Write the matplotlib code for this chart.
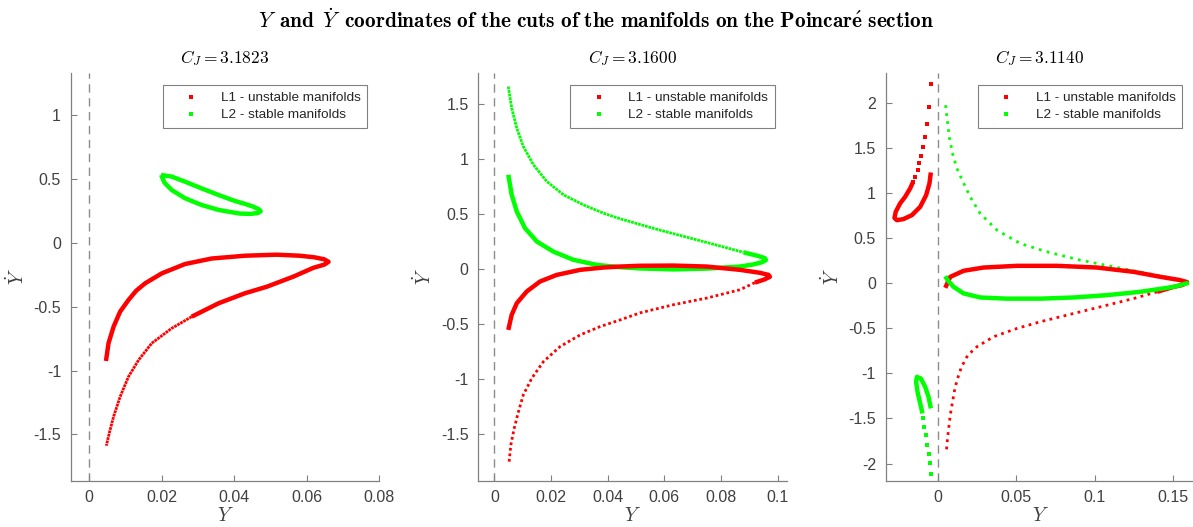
import numpy as np
import matplotlib.pyplot as plt
from matplotlib.lines import Line2D

plt.rcParams['mathtext.fontset'] = 'cm'
plt.rcParams['font.family'] = ['Liberation Sans', 'DejaVu Sans']

RED = '#ff0000'
GREEN = '#00ff00'

cj_values = ['3.1823', '3.1600', '3.1140']
legend_labels = ['L1 - unstable manifolds', 'L2 - stable manifolds']

# ---- panel 1 : C_J = 3.1823 ----
p1_green_loop = [(0.0199, 0.533), (0.0228, 0.520), (0.0265, 0.480), (0.0310, 0.428),
                 (0.0357, 0.376), (0.0402, 0.329), (0.0430, 0.306), (0.0452, 0.285),
                 (0.0468, 0.264), (0.0473, 0.248), (0.0465, 0.234), (0.0445, 0.228),
                 (0.0417, 0.230), (0.0393, 0.241), (0.0357, 0.259), (0.0310, 0.298),
                 (0.0265, 0.350), (0.0228, 0.415), (0.0208, 0.473), (0.0199, 0.533)]
p1_red_dense = [(0.0047, -0.925), (0.0054, -0.786), (0.0068, -0.656), (0.0086, -0.538),
                (0.0109, -0.447), (0.0130, -0.375), (0.0155, -0.316), (0.0201, -0.238),
                (0.0265, -0.165), (0.0338, -0.122), (0.0430, -0.100), (0.0517, -0.092),
                (0.0580, -0.100), (0.0620, -0.112), (0.0648, -0.128), (0.0660, -0.148),
                (0.0648, -0.170), (0.0618, -0.195), (0.0563, -0.264), (0.0490, -0.343),
                (0.0430, -0.394), (0.0357, -0.473), (0.0283, -0.578)]
p1_red_sparse = [(0.0283, -0.578), (0.0228, -0.669), (0.0173, -0.786), (0.0137, -0.917),
                 (0.0109, -1.048), (0.0086, -1.205), (0.0068, -1.361), (0.0056, -1.491),
                 (0.0048, -1.589)]

# ---- panel 2 : C_J = 3.1600 ----
p2_green_sparse = [(0.0049, 1.657), (0.0061, 1.461), (0.0079, 1.279), (0.0102, 1.112),
                   (0.0138, 0.945), (0.0185, 0.794), (0.0244, 0.673), (0.0314, 0.582),
                   (0.0385, 0.506), (0.0444, 0.455), (0.0573, 0.360), (0.0691, 0.280),
                   (0.0808, 0.200), (0.0880, 0.150)]
p2_green_dense = [(0.0880, 0.150), (0.0930, 0.118), (0.0955, 0.098), (0.0959, 0.080),
                  (0.0945, 0.060), (0.0910, 0.038), (0.0867, 0.021), (0.0749, 0.002),
                  (0.0632, -0.005), (0.0514, 0.004), (0.0444, 0.015), (0.0362, 0.036),
                  (0.0279, 0.082), (0.0208, 0.157), (0.0150, 0.248), (0.0108, 0.370),
                  (0.0079, 0.521), (0.0061, 0.673), (0.0049, 0.855)]
p2_red_dense = [(0.0049, -0.555), (0.0061, -0.418), (0.0079, -0.312), (0.0114, -0.206),
                (0.0161, -0.115), (0.0220, -0.055), (0.0303, -0.009), (0.0385, 0.012),
                (0.0444, 0.021), (0.0514, 0.028), (0.0632, 0.030), (0.0749, 0.021),
                (0.0867, -0.009), (0.0938, -0.036), (0.0968, -0.055), (0.0973, -0.072),
                (0.0955, -0.095), (0.0920, -0.125)]
p2_red_sparse = [(0.0920, -0.125), (0.0867, -0.190), (0.0749, -0.266), (0.0632, -0.326),
                 (0.0514, -0.400), (0.0444, -0.464), (0.0374, -0.524), (0.0303, -0.600),
                 (0.0232, -0.706), (0.0173, -0.843), (0.0132, -0.994), (0.0102, -1.145),
                 (0.0085, -1.297), (0.0070, -1.448), (0.0058, -1.600), (0.0052, -1.752)]

# ---- panel 3 : C_J = 3.1140 ----
p3_red_left_dots = [(-0.0045, 2.203), (-0.0056, 1.955), (-0.0068, 1.766), (-0.0081, 1.622),
                    (-0.0096, 1.508), (-0.0107, 1.408), (-0.0118, 1.327), (-0.0130, 1.253),
                    (-0.0145, 1.178), (-0.0160, 1.116)]
p3_red_left_dense = [(-0.0160, 1.116), (-0.0177, 1.050), (-0.0209, 0.957), (-0.0241, 0.884),
                     (-0.0269, 0.791), (-0.0277, 0.724), (-0.0262, 0.698), (-0.0220, 0.710),
                     (-0.0166, 0.754), (-0.0113, 0.846), (-0.0075, 0.976), (-0.0054, 1.105),
                     (-0.0045, 1.227)]
p3_red_dense = [(0.0047, -0.052), (0.0079, 0.070), (0.0164, 0.137), (0.0291, 0.173),
                (0.0504, 0.192), (0.0760, 0.192), (0.1015, 0.173), (0.1249, 0.125),
                (0.1419, 0.070), (0.1540, 0.035), (0.1589, 0.012), (0.1560, -0.020),
                (0.1504, -0.041), (0.1398, -0.096)]
p3_red_sparse = [(0.1398, -0.096), (0.1249, -0.170), (0.1079, -0.244), (0.0866, -0.336),
                 (0.0653, -0.428), (0.0504, -0.502), (0.0355, -0.594), (0.0249, -0.705),
                 (0.0190, -0.800), (0.0150, -0.930), (0.0125, -1.060), (0.0108, -1.170),
                 (0.0095, -1.300), (0.0080, -1.450), (0.0068, -1.620), (0.0058, -1.780),
                 (0.0053, -1.888)]
p3_green_sparse = [(0.0049, 1.973), (0.0058, 1.833), (0.0074, 1.604), (0.0096, 1.419),
                   (0.0121, 1.272), (0.0153, 1.150), (0.0206, 0.956), (0.0270, 0.771),
                   (0.0377, 0.587), (0.0526, 0.439), (0.0696, 0.347), (0.0909, 0.255),
                   (0.1121, 0.181), (0.1334, 0.107), (0.1504, 0.052), (0.1600, 0.004)]
p3_green_dense = [(0.1600, 0.004), (0.1504, -0.041), (0.1291, -0.096), (0.1079, -0.133),
                  (0.0866, -0.159), (0.0653, -0.172), (0.0440, -0.172), (0.0270, -0.159),
                  (0.0164, -0.114), (0.0100, -0.041), (0.0062, 0.033), (0.0047, 0.077)]
p3_green_left_dense = [(-0.0045, -1.389), (-0.0060, -1.260), (-0.0081, -1.150),
                       (-0.0109, -1.057), (-0.0134, -1.039), (-0.0139, -1.094),
                       (-0.0130, -1.205), (-0.0113, -1.334), (-0.0098, -1.445)]
p3_green_left_dots = [(-0.0092, -1.500), (-0.0086, -1.593), (-0.0077, -1.685),
                      (-0.0068, -1.796), (-0.0058, -1.896), (-0.0051, -1.999),
                      (-0.0045, -2.118)]

# sparse sections: (points, colour, gap between dots in line widths)
panels = [
    {'dense': [(p1_green_loop, GREEN), (p1_red_dense, RED)],
     'sparse': [(p1_red_sparse, RED, 0.25)],
     'dots': [],
     'xlim': (-0.005, 0.08), 'ylim': (-1.863, 1.332),
     'xticks': [0, 0.02, 0.04, 0.06, 0.08], 'yticks': [-1.5, -1, -0.5, 0, 0.5, 1]},
    {'dense': [(p2_green_dense, GREEN), (p2_red_dense, RED)],
     'sparse': [(p2_green_sparse, GREEN, 0.3), (p2_red_sparse, RED, 1.0)],
     'dots': [],
     'xlim': (-0.0057, 0.1033), 'ylim': (-1.925, 1.78),
     'xticks': [0, 0.02, 0.04, 0.06, 0.08, 0.1], 'yticks': [-1.5, -1, -0.5, 0, 0.5, 1, 1.5]},
    {'dense': [(p3_red_left_dense, RED), (p3_red_dense, RED),
               (p3_green_dense, GREEN), (p3_green_left_dense, GREEN)],
     'sparse': [(p3_red_sparse, RED, 1.6), (p3_green_sparse, GREEN, 1.9)],
     'dots': [(p3_red_left_dots, RED), (p3_green_left_dots, GREEN)],
     'xlim': (-0.0333, 0.1635), 'ylim': (-2.19, 2.33),
     'xticks': [0, 0.05, 0.1, 0.15], 'yticks': [-2, -1.5, -1, -0.5, 0, 0.5, 1, 1.5, 2]},
]

fig = plt.figure(figsize=(11.93, 5.27), dpi=100)
lefts = [0.0593, 0.4009, 0.7424]

for i, p in enumerate(panels):
    ax = fig.add_axes([lefts[i], 0.0879, 0.2587, 0.7736])
    ax.axvline(0, color='#8c8c8c', lw=1.0, ls=(0, (6, 4)), zorder=1)
    for pts, c, gap in p['sparse']:
        xy = np.array(pts)
        ax.plot(xy[:, 0], xy[:, 1], color=c, lw=2.0, ls=(0, (1, gap)), zorder=2)
    for pts, c in p['dots']:
        xy = np.array(pts)
        ax.plot(xy[:, 0], xy[:, 1], ls='none', marker='s', ms=2.8, mew=0, color=c, zorder=2)
    for pts, c in p['dense']:
        xy = np.array(pts)
        ax.plot(xy[:, 0], xy[:, 1], color=c, lw=3.2, solid_capstyle='butt',
                solid_joinstyle='round', zorder=3)
    ax.set_xlim(*p['xlim'])
    ax.set_ylim(*p['ylim'])
    ax.set_xticks(p['xticks'])
    ax.set_yticks(p['yticks'])
    ax.set_xticklabels([('%g' % v) for v in p['xticks']])
    ax.set_yticklabels([('%g' % v) for v in p['yticks']])
    for s in ['top', 'right']:
        ax.spines[s].set_visible(False)
    for s in ['left', 'bottom']:
        ax.spines[s].set_color('#808080')
        ax.spines[s].set_linewidth(0.9)
    ax.tick_params(direction='in', length=4, width=0.8, color='#808080',
                   labelcolor='#404040', labelsize=11.5, pad=7)
    ax.set_xlabel(r'$Y$', fontsize=14, color='#404040', labelpad=1)
    ax.set_ylabel(r'$\dot{Y}$', fontsize=14, color='#404040', labelpad=4)
    ax.set_title(r'$C_J = %s$' % cj_values[i], fontsize=12.5, pad=7)
    handles = [Line2D([], [], ls='none', marker='s', ms=2.4, mew=0, color=RED),
               Line2D([], [], ls='none', marker='s', ms=2.4, mew=0, color=GREEN)]
    leg = ax.legend(handles, legend_labels,
                    loc='upper right', fontsize=9.7, fancybox=False, framealpha=1,
                    edgecolor='#808080', borderaxespad=0.9, handlelength=3.2,
                    handletextpad=0.6, borderpad=0.5, labelspacing=0.35)
    leg.get_frame().set_linewidth(0.8)
    for t in leg.get_texts():
        t.set_color('#262626')

fig.suptitle(r'$Y\ \,\mathbf{and}\ \,\dot{Y}\ \,\mathbf{coordinates\ of\ the\ cuts\ of\ the\ manifolds\ on\ the\ Poincar\acute{e}\ section}$',
             fontsize=15.3, y=0.985)

fig.savefig('out.png', dpi=100)
